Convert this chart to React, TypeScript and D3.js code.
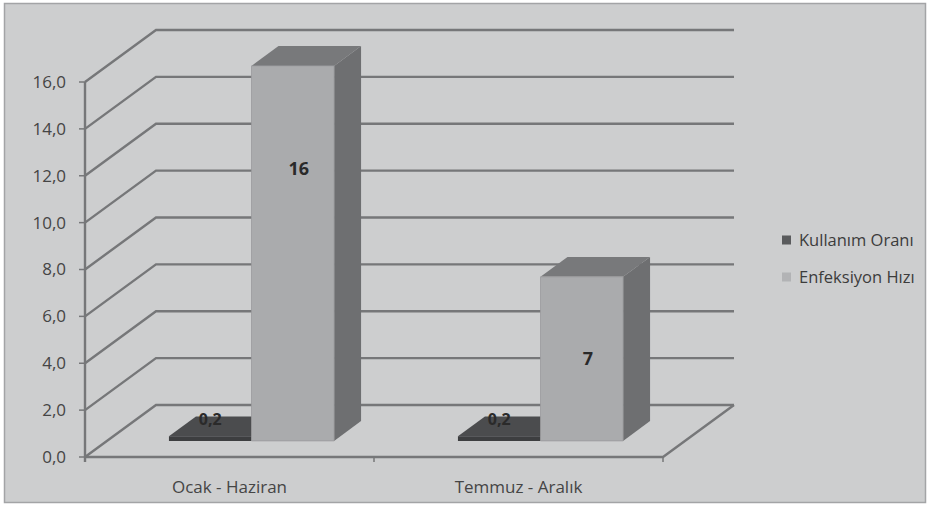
import React from "react";
import * as d3 from "d3";

const categories = ["Ocak - Haziran", "Temmuz - Aralık"];
const seriesNames = ["Kullanım Oranı", "Enfeksiyon Hızı"];
const kullanimOrani = [0.2, 0.2];
const enfeksiyonHizi = [16, 7];
const yTicks = [0, 2, 4, 6, 8, 10, 12, 14, 16];
const tickLabels = yTicks.map((t) => t.toFixed(1).replace(".", ","));
const valueLabels = [["0,2", "16"], ["0,2", "7"]];

const W = 930;
const H = 506;
const BG = "#cdcecf";
const GRID = "#767779";
const FONT = "'Open Sans', Lato, sans-serif";

// oblique depth projection
const DX = 71;
const DY = -52;
const F1 = 0.31; // bar front depth fraction
const F2 = 0.69; // bar back depth fraction

export default function App() {
  const y = d3.scaleLinear().domain([0, 16]).range([457, 82]);
  const x = d3.scaleBand<string>().domain(categories).range([85, 663]).padding(0);
  const bw = x.bandwidth();
  const barW = bw / 3.5;
  const inner = d3.scaleBand<string>().domain(seriesNames).paddingInner(0).paddingOuter(0);

  const proj = (px: number, v: number, f: number): [number, number] => [px + f * DX, y(v) + f * DY];
  const pts = (arr: [number, number][]) => arr.map((p) => p.join(",")).join(" ");

  const series = [kullanimOrani, enfeksiyonHizi];
  const colors = [
    { front: "#3d3e40", side: "#2e2f31", top: "#4b4c4e" },
    { front: "#aaabad", side: "#6e6f71", top: "#78797b" },
  ];
  const legendColors = ["#5a5b5d", "#b2b3b5"];
  const labelAt = [
    [null, 11.6],
    [null, 3.5],
  ];

  const x0 = 85;
  const xEnd = 663;
  const backRight = xEnd + DX;

  return (
    <svg width={W} height={H} style={{ position: "absolute", left: 0, top: 0, background: "#ffffff" }}>
      <rect x={4.5} y={3.5} width={921} height={499} fill={BG} stroke="#a3a4a6" strokeWidth={1.5} />
      {/* walls / gridlines */}
      {yTicks.map((t, ti) => {
        const a = proj(x0, t, 0);
        const b = proj(x0, t, 1);
        return (
          <g key={t}>
            <polyline
              points={pts([a, b, [backRight, b[1]]])}
              fill="none"
              stroke={GRID}
              strokeWidth={2.4}
            />
            <line x1={x0 - 6} x2={x0} y1={a[1]} y2={a[1]} stroke={GRID} strokeWidth={1.5} />
            <text
              x={x0 - 19}
              y={a[1]}
              dy="0.35em"
              textAnchor="end"
              fontFamily={FONT}
              fontSize={17}
              fill="#454545"
            >
              {tickLabels[ti]}
            </text>
          </g>
        );
      })}
      {/* floor */}
      <polyline
        points={pts([proj(x0, 0, 0), proj(xEnd, 0, 0), proj(xEnd, 0, 1)])}
        fill="none"
        stroke={GRID}
        strokeWidth={2.4}
      />
      <line x1={x0} x2={x0} y1={y(16)} y2={y(0) + 5} stroke={GRID} strokeWidth={2.4} />
      {categories.map((c, i) => (
        <line key={"ct" + i} x1={x(c)! + bw} x2={x(c)! + bw} y1={y(0)} y2={y(0) + 5} stroke={GRID} strokeWidth={1.5} />
      ))}
      {/* bars */}
      {categories.map((c, ci) => {
        const center = x(c)! + bw / 2;
        inner.range([center - barW, center + barW]);
        return (
          <g key={c}>
            {seriesNames.map((s, si) => {
              const v = series[si][ci];
              const l = inner(s)!;
              const r = l + inner.bandwidth();
              const fbl = proj(l, 0, F1);
              const fbr = proj(r, 0, F1);
              const ftl = proj(l, v, F1);
              const ftr = proj(r, v, F1);
              const btl = proj(l, v, F2);
              const btr = proj(r, v, F2);
              const bbr = proj(r, 0, F2);
              const col = colors[si];
              const la = labelAt[ci][si];
              const lx = (fbl[0] + fbr[0]) / 2 + (si === 1 ? 6 : 0);
              const ly = la == null ? btl[1] + 3 : proj(l, la, F1)[1];
              return (
                <g key={s}>
                  <polygon points={pts([ftr, fbr, bbr, btr])} fill={col.side} />
                  <polygon points={pts([ftl, ftr, btr, btl])} fill={col.top} />
                  <polygon points={pts([fbl, fbr, ftr, ftl])} fill={col.front} stroke={si === 1 ? "#9a9b9d" : "none"} strokeWidth={0.8} />
                  <text
                    x={lx}
                    y={ly}
                    dy="0.35em"
                    textAnchor="middle"
                    fontFamily={FONT}
                    fontSize={si === 1 ? 18 : 16}
                    fontWeight="bold"
                    fill="#2a2a2a"
                  >
                    {valueLabels[ci][si]}
                  </text>
                </g>
              );
            })}
          </g>
        );
      })}
      {/* category labels */}
      {categories.map((c) => (
        <text
          key={"cl" + c}
          x={x(c)! + bw / 2}
          y={487}
          dy="0.35em"
          textAnchor="middle"
          fontFamily={FONT}
          fontSize={17}
          fill="#454545"
        >
          {c}
        </text>
      ))}
      {/* legend */}
      {seriesNames.map((s, i) => (
        <g key={"lg" + s} transform={`translate(782, ${240 + i * 37})`}>
          <rect x={0} y={-4.5} width={9} height={9} fill={legendColors[i]} />
          <text x={17} y={0} dy="0.35em" fontFamily={FONT} fontSize={16.5} fill="#3c3c3c">
            {s}
          </text>
        </g>
      ))}
    </svg>
  );
}
